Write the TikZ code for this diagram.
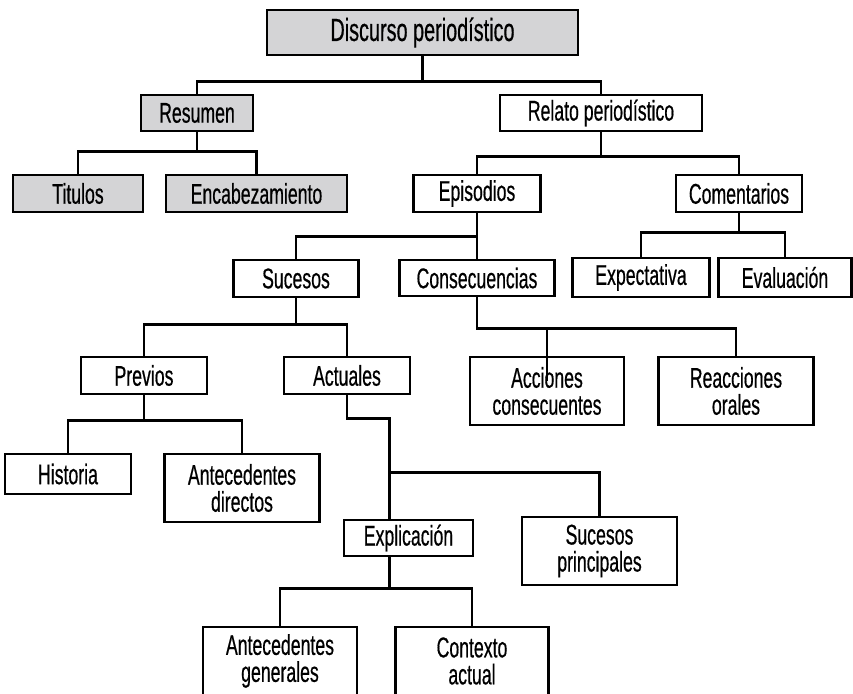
\documentclass[tikz,border=0pt]{standalone}
\usepackage{fontspec}
\setmainfont{Liberation Sans}[FakeStretch=0.62, FakeBold=0.5]
\usetikzlibrary{calc}

\definecolor{grisclaro}{RGB}{212,212,214}

\begin{document}
\begin{tikzpicture}[
    x=1pt, y=-1pt,
    caja/.style={draw, line width=2.9pt, fill=white, inner sep=0pt, align=center,
                 font=\fontsize{28.5}{27}\selectfont},
    gris/.style={caja, fill=grisclaro},
    rama/.style={line width=2.7pt}
]
    \useasboundingbox (0,0) rectangle (853,693);

    % Nivel 1 y 2
    \node[gris, minimum width=311pt, minimum height=45pt, font=\fontsize{32}{34}\selectfont]
        (disc) at (422.5,32.5) {Discurso periodístico};
    \node[gris, minimum width=112pt, minimum height=36pt] (resumen) at (197,113) {Resumen};
    \node[caja, minimum width=202pt, minimum height=36pt] (relato) at (601,113) {Relato periodístico};

    % Resumen
    \node[gris, minimum width=130pt, minimum height=37pt] (titulos) at (78,193.5) {Titulos};
    \node[gris, minimum width=181pt, minimum height=37pt] (encab) at (256.5,193.5) {Encabezamiento};

    % Relato
    \node[caja, minimum width=127pt, minimum height=37pt] (episodios) at (477,193.5) {Episodios};
    \node[caja, minimum width=126pt, minimum height=37pt] (comentarios) at (739,193.5) {Comentarios};
    \node[caja, minimum width=125pt, minimum height=37pt] (sucesos) at (296,278.5) {Sucesos};
    \node[caja, minimum width=155pt, minimum height=36pt] (consec) at (477,278) {Consecuencias};
    \node[caja, minimum width=137pt, minimum height=39pt] (expect) at (641,277.5) {Expectativa};
    \node[caja, minimum width=133pt, minimum height=39pt] (evalua) at (785,277.5) {Evaluación};

    % Sucesos y consecuencias
    \node[caja, minimum width=126pt, minimum height=37pt] (previos) at (144,375.5) {Previos};
    \node[caja, minimum width=126pt, minimum height=37pt] (actuales) at (347,375.5) {Actuales};
    \node[caja, minimum width=154pt, minimum height=68pt] (acciones) at (547,391) {Acciones\\consecuentes};
    \node[caja, minimum width=155pt, minimum height=68pt] (reacc) at (736,391) {Reacciones\\orales};
    \node[caja, minimum width=126pt, minimum height=40pt] (historia) at (68,474) {Historia};
    \node[caja, minimum width=155pt, minimum height=68pt] (antdir) at (242,488) {Antecedentes\\directos};
    \node[caja, minimum width=129pt, minimum height=36pt] (expl) at (408.5,538) {Explicación};
    \node[caja, minimum width=155pt, minimum height=68pt] (sucprin) at (599.5,551) {Sucesos\\principales};
    \node[caja, minimum width=154pt, minimum height=68pt] (antgen) at (280,661) {Antecedentes\\generales};
    \node[caja, minimum width=153pt, minimum height=68pt] (contexto) at (472,661) {Contexto\\actual};

    % Ramas
    \draw[rama] (disc.south) -- ++(0,25) coordinate (j1);
    \draw[rama] (resumen.north) |- (j1) -| (relato.north);
    \draw[rama] (resumen.south) -- ++(0,19) coordinate (j2);
    \draw[rama] (titulos.north) |- (j2) -| (encab.north);
    \draw[rama] (relato.south) -- ++(0,24) coordinate (j3);
    \draw[rama] (episodios.north) |- (j3) -| (comentarios.north);
    \draw[rama] (episodios.south) -- ++(0,23) coordinate (j4) -- (consec.north);
    \draw[rama] (sucesos.north) |- (j4);
    \draw[rama] (comentarios.south) -- ++(0,19) coordinate (j5);
    \draw[rama] (expect.north) |- (j5) -| (evalua.north);
    \draw[rama] (sucesos.south) -- ++(0,26) coordinate (j6);
    \draw[rama] (previos.north) |- (j6) -| (actuales.north);
    \draw[rama] (consec.south) -- ++(0,31) coordinate (j7) -| (reacc.north);
    \draw[rama] (acciones.north |- j7) -- ++(0,53);
    \draw[rama] (previos.south) -- ++(0,25) coordinate (j8);
    \draw[rama] (historia.north) |- (j8) -| (antdir.north);
    \draw[rama] (actuales.south) -- ++(0,23) -| coordinate[pos=0.77] (j9) ([xshift=-19pt]expl.north);
    \draw[rama] (j9) -| (sucprin.north);
    \draw[rama] ([xshift=-19pt]expl.south) -- ++(0,31) coordinate (j10);
    \draw[rama] (antgen.north) |- (j10) -| (contexto.north);
\end{tikzpicture}
\end{document}
